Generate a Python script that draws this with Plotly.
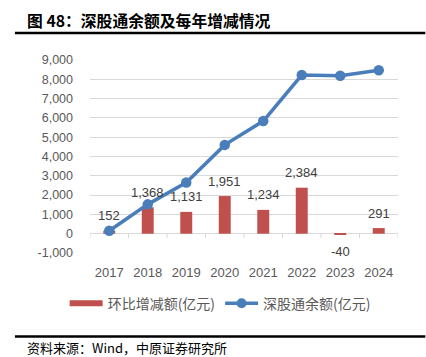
import plotly.graph_objects as go

years = ["2017", "2018", "2019", "2020", "2021", "2022", "2023", "2024"]
change = [152, 1368, 1131, 1951, 1234, 2384, -40, 291]
balance = [152, 1520, 2651, 4602, 5836, 8220, 8180, 8471]
yticks = [-1000, 0, 1000, 2000, 3000, 4000, 5000, 6000, 7000, 8000, 9000]

FONT = "Liberation Sans, Noto Sans CJK SC, sans-serif"
CJK = "Noto Sans CJK SC, sans-serif"
RED = "#C0504D"
BLUE = "#4A7EBB"

W, H = 426, 357
L, R, T, B = 90, 28.3, 60, 103.7
PW, PH = W - L - R, H - T - B


def px(x):
    return (x - L) / PW


def py(y):
    return (H - B - y) / PH


fig = go.Figure()
fig.add_trace(go.Bar(
    x=years, y=change, name="环比增减额(亿元)", showlegend=False,
    marker=dict(color=RED, line=dict(width=0)), width=0.31,
))
fig.add_trace(go.Scatter(
    x=years, y=balance, name="深股通余额(亿元)", mode="lines+markers", showlegend=False,
    line=dict(color=BLUE, width=3.5), marker=dict(color=BLUE, size=10.5),
    cliponaxis=False,
))
# legend proxies
fig.add_trace(go.Scatter(x=[None], y=[None], mode="lines", name="环比增减额(亿元)",
                         line=dict(color=RED, width=6)))
fig.add_trace(go.Scatter(x=[None], y=[None], mode="lines+markers", name="深股通余额(亿元)",
                         line=dict(color=BLUE, width=3.5), marker=dict(color=BLUE, size=10)))

# bar value labels
for i, v in enumerate(change):
    fig.add_annotation(x=i, y=v, xref="x", yref="y", text=f"{v:,}", showarrow=False,
                       yshift=15 if v >= 0 else -17,
                       font=dict(size=13, color="#404040", family=FONT))

# category-boundary tick marks on the zero line
for i in range(len(years) + 1):
    fig.add_shape(type="line", xref="x", yref="y", x0=i - 0.5, x1=i - 0.5,
                  y0=0, y1=-220, line=dict(color="#D9D9D9", width=1), layer="below")

fig.update_layout(
    width=W, height=H,
    margin=dict(l=L, r=R, t=T, b=B),
    paper_bgcolor="white", plot_bgcolor="white",
    showlegend=True,
    legend=dict(orientation="h", x=px(220), xanchor="center", y=py(304), yanchor="middle",
                font=dict(size=14, color="#595959", family=CJK),
                itemwidth=33, tracegroupgap=0, traceorder="normal"),
    font=dict(family=FONT, color="#595959"),
    bargap=0.69,
)
fig.update_xaxes(
    type="category", range=[-0.5, len(years) - 0.5], showgrid=False,
    showline=False, ticks="", tickfont=dict(size=13, color="#595959", family=FONT),
    ticklabelstandoff=10,
)
fig.update_yaxes(
    range=[-1000, 9000], tickvals=yticks, ticktext=[f"{v:,}" for v in yticks],
    showgrid=True, gridcolor="#D9D9D9", gridwidth=1,
    zeroline=True, zerolinecolor="#D9D9D9", zerolinewidth=1,
    showline=False, ticks="", tickfont=dict(size=12.5, color="#595959", family=FONT),
    ticklabelstandoff=16,
)

# title, frame lines and source
fig.add_annotation(text="<b>图 48：深股通余额及每年增减情况</b>", xref="paper", yref="paper",
                   x=px(25), y=py(20), xanchor="left", yanchor="middle",
                   showarrow=False, font=dict(size=15.8, color="#000000", family=CJK))
fig.add_shape(type="line", xref="paper", yref="paper", x0=px(15), x1=px(425),
              y0=py(33), y1=py(33), line=dict(color="black", width=2.5))
fig.add_shape(type="line", xref="paper", yref="paper", x0=px(15), x1=px(425),
              y0=py(337), y1=py(337), line=dict(color="black", width=2.5))
fig.add_annotation(text="资料来源：Wind，中原证券研究所", xref="paper", yref="paper",
                   x=px(25), y=py(348), xanchor="left", yanchor="middle",
                   showarrow=False, font=dict(size=13, color="#000000", family=CJK))

fig.write_html("out.html", config={"displayModeBar": False},
               post_script="document.body.style.margin='0px';")
